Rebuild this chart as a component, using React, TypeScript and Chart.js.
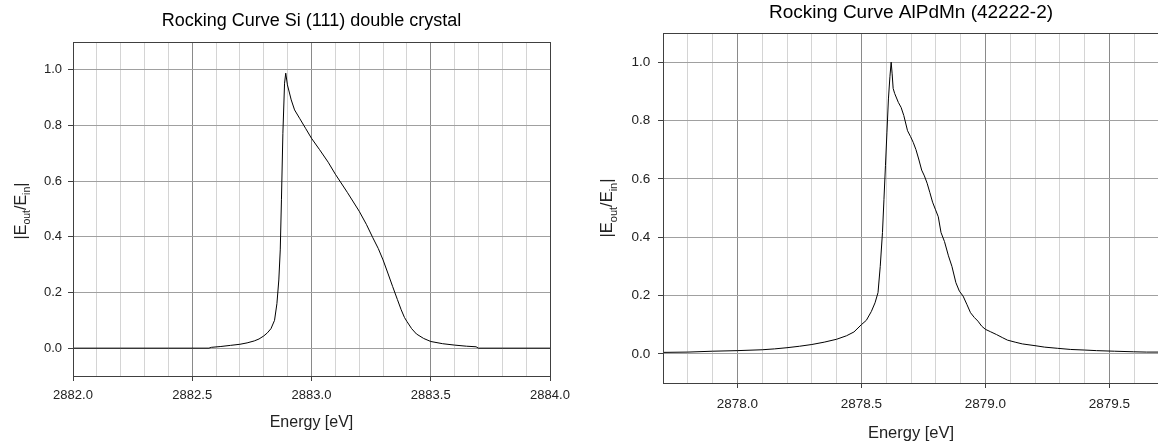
import React, { useEffect, useRef } from "react";
import { Chart, registerables } from "chart.js";

Chart.register(...registerables);

const FONT = '"Liberation Sans", Arial, Helvetica, sans-serif';

// ---------- Chart 1: Si (111) double crystal ----------
const siTitle = "Rocking Curve Si (111) double crystal";
const siEnergy = [
  2882.0, 2882.2, 2882.4, 2882.57, 2882.58, 2882.62, 2882.66, 2882.7, 2882.73, 2882.76,
  2882.78, 2882.8, 2882.815, 2882.83, 2882.845, 2882.855, 2882.863, 2882.869, 2882.874, 2882.88,
  2882.887, 2882.892, 2882.899, 2882.915, 2882.929, 2882.95, 2882.975, 2883.0, 2883.034, 2883.07,
  2883.1, 2883.15, 2883.2, 2883.23, 2883.257, 2883.28, 2883.3, 2883.32, 2883.34, 2883.36,
  2883.376, 2883.39, 2883.4, 2883.42, 2883.44, 2883.47, 2883.5, 2883.55, 2883.6, 2883.65,
  2883.69, 2883.7, 2883.8, 2884.0,
];
const siValue = [
  0, 0, 0, 0, 0.003, 0.006, 0.01, 0.014, 0.019, 0.026,
  0.033, 0.044, 0.055, 0.07, 0.1, 0.16, 0.245, 0.353, 0.533, 0.772,
  0.952, 0.988, 0.946, 0.892, 0.856, 0.826, 0.79, 0.754, 0.713, 0.668,
  0.625, 0.56, 0.492, 0.445, 0.397, 0.358, 0.317, 0.27, 0.222, 0.175,
  0.138, 0.11, 0.096, 0.07, 0.051, 0.035, 0.024, 0.016, 0.011, 0.007,
  0.005, 0, 0, 0,
];
const siMajorX = [2882.0, 2882.5, 2883.0, 2883.5, 2884.0];
const siMajorXLabels = ["2882.0", "2882.5", "2883.0", "2883.5", "2884.0"];
const siMinorX = [
  2882.1, 2882.2, 2882.3, 2882.4, 2882.6, 2882.7, 2882.8, 2882.9,
  2883.1, 2883.2, 2883.3, 2883.4, 2883.6, 2883.7, 2883.8, 2883.9,
];

// ---------- Chart 2: AlPdMn (42222-2) ----------
const alTitle = "Rocking Curve AlPdMn (42222-2)";
const alEnergy = [
  2877.7, 2877.8, 2877.9, 2878.0, 2878.1, 2878.15, 2878.2, 2878.25, 2878.3, 2878.35,
  2878.4, 2878.44, 2878.47, 2878.5, 2878.52, 2878.54, 2878.555, 2878.567, 2878.576, 2878.585,
  2878.591, 2878.597, 2878.603, 2878.609, 2878.615, 2878.62, 2878.624, 2878.628, 2878.634, 2878.649,
  2878.66, 2878.671, 2878.686, 2878.698, 2878.709, 2878.72, 2878.731, 2878.743, 2878.754, 2878.765,
  2878.776, 2878.787, 2878.798, 2878.81, 2878.821, 2878.835, 2878.851, 2878.865, 2878.881, 2878.895,
  2878.91, 2878.925, 2878.94, 2878.955, 2878.97, 2878.985, 2879.0, 2879.02, 2879.045, 2879.07,
  2879.089, 2879.12, 2879.149, 2879.2, 2879.239, 2879.29, 2879.344, 2879.4, 2879.448, 2879.52,
  2879.598, 2879.65, 2879.7,
];
const alValue = [
  0.005, 0.006, 0.009, 0.011, 0.014, 0.017, 0.021, 0.026, 0.032, 0.04,
  0.05, 0.062, 0.075, 0.1, 0.115, 0.145, 0.175, 0.21, 0.3, 0.416,
  0.53, 0.645, 0.76, 0.874, 0.95, 1.0, 0.96, 0.91, 0.893, 0.862,
  0.845, 0.817, 0.765, 0.745, 0.725, 0.7, 0.668, 0.63, 0.61, 0.585,
  0.553, 0.52, 0.496, 0.47, 0.416, 0.385, 0.336, 0.3, 0.244, 0.215,
  0.198, 0.17, 0.141, 0.125, 0.112, 0.095, 0.084, 0.076, 0.066, 0.055,
  0.047, 0.04, 0.034, 0.028, 0.023, 0.019, 0.015, 0.013, 0.011, 0.009,
  0.007, 0.006, 0.006,
];
const alMajorX = [2878.0, 2878.5, 2879.0, 2879.5];
const alMajorXLabels = ["2878.0", "2878.5", "2879.0", "2879.5"];
const alMinorX = [
  2877.7, 2877.8, 2877.9, 2878.1, 2878.2, 2878.3, 2878.4, 2878.6, 2878.7, 2878.8,
  2878.9, 2879.1, 2879.2, 2879.3, 2879.4, 2879.6, 2879.7,
];

// ---------- shared axis text ----------
const yTickValues = [0.0, 0.2, 0.4, 0.6, 0.8, 1.0];
const yTickLabels = ["0.0", "0.2", "0.4", "0.6", "0.8", "1.0"];
const xAxisTitle = "Energy [eV]";
const yAxisParts: [string, boolean][] = [
  ["|E", false],
  ["out", true],
  ["/E", false],
  ["in", true],
  ["|", false],
];

const near = (a: number, b: number) => Math.abs(a - b) < 1e-6;

const framePlugin = {
  id: "frame",
  afterDatasetsDraw(chart: any, _a: any, opts: any) {
    const { left, top, right, bottom } = chart.chartArea;
    const ctx = chart.ctx;
    ctx.save();
    ctx.strokeStyle = opts.color || "#404040";
    ctx.lineWidth = 1;
    const l = Math.round(left);
    const t = Math.round(top);
    ctx.strokeRect(l + 0.5, t + 0.5, Math.round(right) - l, Math.round(bottom) - t);
    ctx.restore();
  },
};

const yLabelPlugin = {
  id: "yLabel",
  afterDraw(chart: any, _a: any, opts: any) {
    const ctx = chart.ctx;
    const mainFont = `${opts.size}px ${FONT}`;
    const subFont = `${opts.sub}px ${FONT}`;
    ctx.save();
    let total = 0;
    const widths = yAxisParts.map(([t, s]) => {
      ctx.font = s ? subFont : mainFont;
      const w = ctx.measureText(t).width;
      total += w;
      return w;
    });
    ctx.translate(opts.x, opts.y);
    ctx.rotate(-Math.PI / 2);
    ctx.fillStyle = opts.color || "#222";
    ctx.textBaseline = "alphabetic";
    ctx.textAlign = "left";
    let x = -total / 2;
    const base = opts.size * 0.36;
    yAxisParts.forEach(([t, s], i) => {
      ctx.font = s ? subFont : mainFont;
      ctx.fillText(t, x, s ? base + opts.size * 0.28 : base);
      x += widths[i];
    });
    ctx.restore();
  },
};

type Spec = {
  title: string;
  energy: number[];
  value: number[];
  xMin: number;
  xMax: number;
  majorX: number[];
  majorLabels: string[];
  minorX: number[];
  titleFont: number;
  titlePadTop: number;
  titlePadBottom: number;
  tickFont: number;
  yTickPad: number;
  xTickPad: number;
  axisFont: number;
  xTitlePadBottom: number;
  yAxisWidth: number;
  xAxisHeight: number;
  padRight: number;
  yLabelX: number;
  yLabelY: number;
  yLabelFont: number;
  yLabelSub: number;
};

function makeConfig(s: Spec): any {
  const allX = [...s.majorX, ...s.minorX].sort((a, b) => a - b);
  const isMajor = (v: number) => s.majorX.some((m) => near(m, v));
  return {
    type: "line",
    data: {
      datasets: [
        {
          data: s.energy.map((e, i) => ({ x: e, y: s.value[i] })),
          borderColor: "#000",
          borderWidth: 1,
          pointRadius: 0,
          tension: 0,
          fill: false,
        },
      ],
    },
    options: {
      responsive: false,
      animation: false,
      events: [],
      layout: { padding: { left: 0, right: s.padRight, top: 0, bottom: 0 } },
      plugins: {
        legend: { display: false },
        tooltip: { enabled: false },
        title: {
          display: true,
          text: s.title,
          fullSize: false,
          color: "#000",
          font: { family: FONT, size: s.titleFont, weight: "normal" },
          padding: { top: s.titlePadTop, bottom: s.titlePadBottom },
        },
        frame: { color: "#404040" },
        yLabel: { x: s.yLabelX, y: s.yLabelY, size: s.yLabelFont, sub: s.yLabelSub, color: "#222" },
      },
      scales: {
        x: {
          type: "linear",
          min: s.xMin,
          max: s.xMax,
          afterBuildTicks: (axis: any) => {
            axis.ticks = allX.map((v) => ({ value: v }));
          },
          afterFit: (axis: any) => {
            axis.height = s.xAxisHeight;
          },
          ticks: {
            autoSkip: false,
            maxRotation: 0,
            minRotation: 0,
            padding: s.xTickPad,
            color: "#222",
            font: { family: FONT, size: s.tickFont },
            callback: (v: number) => {
              const i = s.majorX.findIndex((m) => near(m, v));
              return i >= 0 ? s.majorLabels[i] : "";
            },
          },
          grid: {
            color: (ctx: any) => (ctx.tick && isMajor(ctx.tick.value) ? "#8a8a8a" : "#d4d4d4"),
            tickColor: (ctx: any) =>
              ctx.tick && isMajor(ctx.tick.value) ? "#404040" : "rgba(0,0,0,0)",
            tickLength: 5,
            drawTicks: true,
            lineWidth: 1,
          },
          border: { display: true, color: "#404040" },
          title: {
            display: true,
            text: xAxisTitle,
            color: "#222",
            font: { family: FONT, size: s.axisFont },
            padding: { top: 0, bottom: s.xTitlePadBottom },
          },
        },
        y: {
          type: "linear",
          min: -0.1,
          max: 1.1,
          afterBuildTicks: (axis: any) => {
            axis.ticks = yTickValues.map((v) => ({ value: v }));
          },
          afterFit: (axis: any) => {
            axis.width = s.yAxisWidth;
          },
          ticks: {
            padding: s.yTickPad,
            color: "#222",
            font: { family: FONT, size: s.tickFont },
            callback: (v: number) => {
              const i = yTickValues.findIndex((m) => near(m, v));
              return i >= 0 ? yTickLabels[i] : "";
            },
          },
          grid: {
            color: "#a0a0a0",
            tickColor: "#404040",
            tickLength: 5,
            drawTicks: true,
            lineWidth: 1,
          },
          border: { display: true, color: "#404040" },
        },
      },
    },
    plugins: [framePlugin, yLabelPlugin],
  };
}

const siSpec: Spec = {
  title: siTitle,
  energy: siEnergy,
  value: siValue,
  xMin: 2882.0,
  xMax: 2884.0,
  majorX: siMajorX,
  majorLabels: siMajorXLabels,
  minorX: siMinorX,
  titleFont: 18,
  titlePadTop: 10.5,
  titlePadBottom: 9.9,
  tickFont: 13,
  yTickPad: 6,
  xTickPad: 6.4,
  axisFont: 16,
  xTitlePadBottom: 13.7,
  yAxisWidth: 73,
  xAxisHeight: 70,
  padRight: 30,
  yLabelX: 20,
  yLabelY: 211,
  yLabelFont: 16,
  yLabelSub: 10.5,
};

const alSpec: Spec = {
  title: alTitle,
  energy: alEnergy,
  value: alValue,
  xMin: 2877.7,
  xMax: 2879.7,
  majorX: alMajorX,
  majorLabels: alMajorXLabels,
  minorX: alMinorX,
  titleFont: 19,
  titlePadTop: 1.3,
  titlePadBottom: 8.9,
  tickFont: 13.5,
  yTickPad: 7.8,
  xTickPad: 7.9,
  axisFont: 16.5,
  xTitlePadBottom: 2.8,
  yAxisWidth: 83,
  xAxisHeight: 63,
  padRight: 21,
  yLabelX: 26,
  yLabelY: 208,
  yLabelFont: 16.5,
  yLabelSub: 11,
};

function ChartCanvas({ spec, left, width }: { spec: Spec; left: number; width: number }) {
  const ref = useRef<HTMLCanvasElement | null>(null);
  useEffect(() => {
    if (!ref.current) return;
    const chart = new Chart(ref.current, makeConfig(spec));
    return () => chart.destroy();
  }, [spec]);
  return (
    <canvas
      ref={ref}
      width={width}
      height={446}
      style={{ position: "absolute", left, top: 0, width, height: 446 }}
    />
  );
}

export default function App() {
  return (
    <div
      style={{
        position: "fixed",
        left: 0,
        top: 0,
        width: 1158,
        height: 446,
        overflow: "hidden",
        background: "#fff",
      }}
    >
      <ChartCanvas spec={siSpec} left={0} width={580} />
      <ChartCanvas spec={alSpec} left={580} width={600} />
    </div>
  );
}
